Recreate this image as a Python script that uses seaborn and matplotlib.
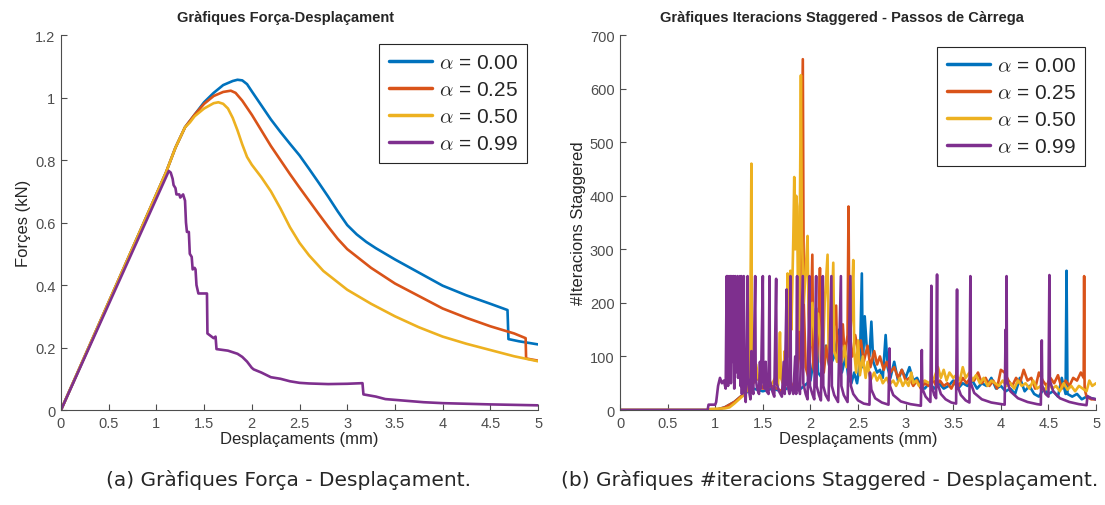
import numpy as np
import pandas as pd
import matplotlib
matplotlib.use('Agg')
import matplotlib.pyplot as plt
import seaborn as sns
from matplotlib.ticker import FormatStrFormatter, MultipleLocator

# Series labels and MATLAB default colours
labels = ['0.00', '0.25', '0.50', '0.99']
colors = ['#0072BD', '#D95319', '#EDB120', '#7E2F8E']

# (a) Force - displacement curves
fx_a0 = [0, 1.1, 1.2, 1.3, 1.35, 1.4, 1.5, 1.6, 1.7, 1.8, 1.85, 1.9, 1.95, 2.0, 2.1, 2.2, 2.3, 2.4,
         2.5, 2.6, 2.7, 2.8, 2.9, 3.0, 3.1, 3.2, 3.3, 3.4, 3.5, 3.75, 4.0, 4.25, 4.5, 4.68, 4.69, 4.8, 5.0]
fy_a0 = [0, 0.76, 0.84, 0.905, 0.925, 0.945, 0.985, 1.015, 1.04, 1.053, 1.057, 1.055, 1.043, 1.02,
         0.975, 0.93, 0.89, 0.852, 0.815, 0.772, 0.728, 0.683, 0.636, 0.592, 0.562, 0.538, 0.518,
         0.5, 0.482, 0.44, 0.398, 0.367, 0.34, 0.32, 0.227, 0.22, 0.21]

fx_a25 = [0, 1.1, 1.2, 1.3, 1.35, 1.4, 1.5, 1.6, 1.7, 1.78, 1.83, 1.9, 2.0, 2.1, 2.2, 2.3, 2.4, 2.5,
          2.6, 2.7, 2.8, 2.9, 3.0, 3.25, 3.5, 3.75, 4.0, 4.25, 4.5, 4.75, 4.87, 4.875, 5.0]
fy_a25 = [0, 0.76, 0.84, 0.905, 0.925, 0.945, 0.98, 1.005, 1.018, 1.022, 1.015, 0.99, 0.945, 0.895,
          0.845, 0.8, 0.755, 0.712, 0.67, 0.628, 0.587, 0.548, 0.515, 0.455, 0.405, 0.365, 0.325,
          0.295, 0.268, 0.245, 0.23, 0.165, 0.158]

fx_a50 = [0, 1.1, 1.2, 1.3, 1.35, 1.4, 1.5, 1.6, 1.65, 1.7, 1.75, 1.8, 1.85, 1.9, 1.95, 2.0, 2.1,
          2.2, 2.3, 2.4, 2.5, 2.6, 2.75, 3.0, 3.25, 3.5, 3.75, 4.0, 4.25, 4.5, 4.75, 5.0]
fy_a50 = [0, 0.76, 0.84, 0.905, 0.92, 0.94, 0.965, 0.982, 0.985, 0.98, 0.965, 0.935, 0.895, 0.85,
          0.81, 0.785, 0.745, 0.7, 0.645, 0.585, 0.535, 0.495, 0.445, 0.385, 0.34, 0.3, 0.265,
          0.235, 0.212, 0.192, 0.172, 0.156]

fx_a99 = [0, 1.13, 1.15, 1.17, 1.18, 1.2, 1.21, 1.24, 1.25, 1.28, 1.29, 1.3, 1.31, 1.32, 1.34,
          1.35, 1.37, 1.38, 1.4, 1.41, 1.42, 1.44, 1.5, 1.53, 1.535, 1.6, 1.62, 1.63, 1.75, 1.85,
          1.9, 1.95, 2.0, 2.02, 2.1, 2.2, 2.3, 2.4, 2.5, 2.6, 2.8, 3.0, 3.16, 3.17, 3.3, 3.4, 3.6,
          3.8, 4.0, 4.25, 4.5, 5.0]
fy_a99 = [0, 0.765, 0.76, 0.74, 0.72, 0.71, 0.69, 0.69, 0.68, 0.69, 0.68, 0.67, 0.6, 0.57, 0.57,
          0.5, 0.49, 0.45, 0.455, 0.45, 0.4, 0.373, 0.373, 0.373, 0.245, 0.23, 0.235, 0.195, 0.19,
          0.18, 0.17, 0.155, 0.135, 0.13, 0.12, 0.105, 0.1, 0.092, 0.087, 0.085, 0.083, 0.084,
          0.086, 0.05, 0.043, 0.035, 0.03, 0.025, 0.022, 0.02, 0.018, 0.015]

# (b) Staggered iterations - displacement
ix_a0 = [0, 1.0, 1.1, 1.2, 1.3, 1.4, 1.5, 1.6, 1.7, 1.8, 1.9, 2.0, 2.04, 2.06, 2.08, 2.12, 2.16,
         2.2, 2.25, 2.3, 2.33, 2.37, 2.4, 2.43, 2.46, 2.49, 2.52, 2.54, 2.55, 2.57, 2.59, 2.62, 2.64,
         2.66, 2.7, 2.73, 2.76, 2.79, 2.81, 2.84, 2.88, 2.92, 2.96, 3.0, 3.04, 3.08, 3.12, 3.16, 3.2,
         3.25, 3.3, 3.35, 3.4, 3.45, 3.5, 3.55, 3.6, 3.65, 3.7, 3.75, 3.8, 3.85, 3.9, 3.95, 4.0,
         4.05, 4.1, 4.15, 4.2, 4.25, 4.3, 4.35, 4.4, 4.45, 4.5, 4.55, 4.6, 4.64, 4.68, 4.69, 4.7,
         4.75, 4.8, 4.85, 4.9, 4.95, 5.0]
iy_a0 = [0, 0, 5, 15, 30, 40, 35, 40, 35, 45, 40, 55, 100, 190, 70, 60, 120, 80, 100, 150, 70,
         100, 60, 50, 70, 50, 90, 255, 80, 175, 120, 100, 165, 90, 70, 75, 60, 140, 80, 60, 90, 55,
         75, 60, 80, 55, 60, 45, 40, 50, 40, 50, 40, 45, 55, 40, 50, 45, 55, 40, 50, 45, 60, 40, 45,
         35, 40, 30, 60, 35, 45, 30, 25, 40, 30, 35, 25, 60, 30, 260, 30, 25, 30, 20, 25, 22, 20]

ix_a25 = [0, 1.0, 1.1, 1.2, 1.3, 1.35, 1.4, 1.45, 1.5, 1.6, 1.7, 1.75, 1.8, 1.85, 1.88, 1.9, 1.92,
          1.93, 1.95, 1.98, 2.0, 2.02, 2.03, 2.06, 2.09, 2.1, 2.11, 2.14, 2.17, 2.2, 2.24, 2.27,
          2.28, 2.31, 2.34, 2.36, 2.39, 2.4, 2.41, 2.44, 2.47, 2.5, 2.53, 2.56, 2.6, 2.63, 2.67,
          2.7, 2.73, 2.77, 2.8, 2.84, 2.88, 2.92, 2.96, 3.0, 3.04, 3.08, 3.12, 3.16, 3.2, 3.24,
          3.28, 3.32, 3.36, 3.4, 3.44, 3.48, 3.52, 3.56, 3.6, 3.64, 3.68, 3.72, 3.76, 3.8, 3.84,
          3.88, 3.92, 3.96, 4.0, 4.04, 4.08, 4.12, 4.16, 4.2, 4.24, 4.28, 4.32, 4.36, 4.4, 4.44,
          4.48, 4.52, 4.56, 4.6, 4.64, 4.68, 4.72, 4.76, 4.8, 4.84, 4.87, 4.875, 4.88, 4.9, 4.95, 5.0]
iy_a25 = [0, 0, 5, 15, 30, 40, 50, 60, 40, 45, 35, 50, 40, 60, 100, 300, 655, 200, 80, 60, 120,
          290, 80, 60, 180, 265, 90, 70, 120, 80, 150, 195, 100, 90, 160, 100, 140, 380, 120, 100,
          140, 110, 130, 90, 120, 80, 110, 85, 100, 75, 90, 70, 80, 60, 75, 55, 60, 45, 55, 40, 50,
          45, 60, 45, 55, 45, 50, 40, 55, 45, 60, 50, 60, 55, 70, 50, 60, 45, 55, 40, 75, 70, 55,
          45, 60, 50, 75, 55, 60, 40, 70, 55, 45, 60, 50, 65, 40, 55, 45, 60, 55, 70, 60, 250, 40,
          25, 20, 20]

ix_a50 = [0, 0.93, 0.95, 1.1, 1.15, 1.2, 1.25, 1.3, 1.33, 1.36, 1.37, 1.38, 1.385, 1.4, 1.43,
          1.45, 1.48, 1.52, 1.55, 1.6, 1.63, 1.66, 1.68, 1.69, 1.71, 1.73, 1.74, 1.76, 1.77, 1.78,
          1.79, 1.8, 1.82, 1.83, 1.84, 1.85, 1.86, 1.87, 1.88, 1.9, 1.91, 1.93, 1.95, 1.97, 1.98,
          2.0, 2.02, 2.04, 2.06, 2.08, 2.1, 2.13, 2.15, 2.18, 2.19, 2.21, 2.24, 2.25, 2.28, 2.31,
          2.33, 2.36, 2.38, 2.4, 2.43, 2.45, 2.46, 2.48, 2.5, 2.52, 2.55, 2.58, 2.6, 2.63, 2.67,
          2.7, 2.73, 2.76, 2.8, 2.83, 2.87, 2.9, 2.94, 2.97, 3.0, 3.03, 3.06, 3.08, 3.11, 3.14, 3.2,
          3.25, 3.3, 3.34, 3.37, 3.4, 3.43, 3.46, 3.5, 3.53, 3.57, 3.6, 3.63, 3.67, 3.7, 3.74, 3.78,
          3.82, 3.86, 3.9, 3.94, 3.98, 4.02, 4.06, 4.1, 4.14, 4.18, 4.22, 4.26, 4.3, 4.34, 4.38,
          4.42, 4.46, 4.5, 4.54, 4.58, 4.62, 4.66, 4.7, 4.74, 4.78, 4.82, 4.86, 4.9, 4.93, 4.96, 5.0]
iy_a50 = [0, 0, 2, 3, 5, 12, 20, 28, 35, 50, 200, 460, 130, 60, 85, 60, 50, 70, 45, 50, 60, 45,
          145, 60, 50, 110, 60, 255, 100, 200, 260, 150, 320, 435, 300, 400, 380, 200, 150, 625,
          330, 200, 260, 325, 180, 120, 200, 150, 100, 180, 140, 90, 200, 290, 120, 100, 275, 110,
          90, 140, 90, 120, 80, 100, 170, 280, 110, 70, 130, 65, 100, 60, 90, 55, 70, 55, 65, 50,
          60, 48, 55, 45, 60, 45, 55, 45, 70, 50, 55, 45, 55, 50, 60, 80, 60, 75, 55, 70, 60, 65, 55,
          80, 60, 70, 55, 65, 50, 60, 45, 55, 50, 45, 55, 45, 50, 40, 55, 45, 50, 40, 55, 40, 45, 35,
          50, 40, 45, 35, 50, 38, 45, 35, 45, 40, 35, 55, 45, 50]

ix_a99 = [0, 0.92, 0.93, 1.0, 1.01, 1.03, 1.05, 1.07, 1.09, 1.11,
          1.12, 1.125, 1.13, 1.135, 1.145, 1.15, 1.16, 1.165, 1.175, 1.18, 1.19, 1.2, 1.21, 1.215,
          1.225, 1.235, 1.24, 1.25, 1.26, 1.265, 1.275, 1.28, 1.29, 1.3, 1.305, 1.32, 1.33, 1.34,
          1.345, 1.36, 1.37, 1.38, 1.39, 1.4, 1.42, 1.425, 1.44, 1.46, 1.47, 1.48, 1.5, 1.505,
          1.52, 1.53, 1.54, 1.56, 1.57, 1.575, 1.6, 1.62, 1.64, 1.645, 1.67, 1.7, 1.72, 1.73, 1.75,
          1.755, 1.78, 1.79, 1.795, 1.82, 1.84, 1.85, 1.86, 1.865, 1.89, 1.92, 1.925, 1.95, 1.97,
          1.99, 1.995, 2.02, 2.04, 2.06, 2.065, 2.09, 2.11, 2.13, 2.135, 2.16, 2.19, 2.22, 2.225,
          2.25, 2.29, 2.32, 2.325, 2.35, 2.39, 2.42, 2.425, 2.45, 2.5, 2.56, 2.62, 2.625, 2.64,
          2.68, 2.75, 2.82, 2.83, 2.835, 2.87, 2.95, 3.05, 3.16, 3.17, 3.175, 3.21, 3.26, 3.27,
          3.275, 3.3, 3.32, 3.33, 3.335, 3.37, 3.42, 3.48, 3.53, 3.54, 3.545, 3.58, 3.63, 3.67,
          3.68, 3.685, 3.72, 3.8, 3.9, 4.0, 4.04, 4.05, 4.055, 4.06, 4.065, 4.1, 4.18, 4.28, 4.38,
          4.42, 4.43, 4.435, 4.47, 4.5, 4.51, 4.515, 4.55, 4.62, 4.72, 4.82, 4.9, 4.91, 4.95, 5.0]
iy_a99 = [0, 0, 10, 10, 15, 45, 60, 50, 55, 40,
          250, 60, 250, 45, 250, 100, 250, 50, 250, 90, 250, 40, 250, 70,
          140, 250, 60, 130, 250, 45, 250, 30, 200, 250, 40, 15, 100, 250,
          60, 30, 20, 110, 40, 30, 250, 60, 40, 30, 90, 40, 250, 55,
          40, 90, 35, 30, 250, 55, 35, 25, 245, 50, 35, 25, 90, 30, 225,
          50, 30, 250, 45, 30, 100, 30, 250, 50, 30, 250, 50, 30, 20,
          250, 45, 30, 20, 250, 45, 28, 18, 250, 45, 28, 18, 250, 45,
          28, 15, 250, 45, 28, 15, 250, 45, 30, 18, 12, 10, 70, 38,
          22, 14, 10, 115, 45, 28, 16, 11, 8, 112, 40, 25, 15, 232,
          45, 28, 22, 253, 50, 30, 20, 14, 12, 225, 45, 28, 18, 14,
          250, 50, 32, 20, 14, 11, 10, 150, 50, 250, 55, 35, 22, 15, 11,
          10, 130, 45, 30, 25, 252, 55, 35, 22, 15, 11, 9, 26, 22, 20]

force = pd.concat([
    pd.DataFrame({'x': fx_a0, 'y': fy_a0, 'alpha': labels[0]}),
    pd.DataFrame({'x': fx_a25, 'y': fy_a25, 'alpha': labels[1]}),
    pd.DataFrame({'x': fx_a50, 'y': fy_a50, 'alpha': labels[2]}),
    pd.DataFrame({'x': fx_a99, 'y': fy_a99, 'alpha': labels[3]}),
], ignore_index=True)

iters = pd.concat([
    pd.DataFrame({'x': ix_a0, 'y': iy_a0, 'alpha': labels[0]}),
    pd.DataFrame({'x': ix_a25, 'y': iy_a25, 'alpha': labels[1]}),
    pd.DataFrame({'x': ix_a50, 'y': iy_a50, 'alpha': labels[2]}),
    pd.DataFrame({'x': ix_a99, 'y': iy_a99, 'alpha': labels[3]}),
], ignore_index=True)

sns.set_theme(style='ticks')
plt.rcParams['font.family'] = ['Liberation Sans', 'DejaVu Sans']
plt.rcParams['mathtext.fontset'] = 'cm'

fig = plt.figure(figsize=(11.05, 5.06), dpi=100)
ax1 = fig.add_axes([0.0552, 0.1877, 0.4317, 0.741])
ax2 = fig.add_axes([0.5611, 0.1877, 0.4308, 0.741])

pal = dict(zip(labels, colors))
gray = '#4d4d4d'

for ax, df in [(ax1, force), (ax2, iters)]:
    sns.lineplot(data=df, x='x', y='y', hue='alpha', palette=pal, sort=False,
                 estimator=None, linewidth=1.9, ax=ax, legend=False)
    ax.set_xlim(0, 5)
    ax.xaxis.set_major_locator(MultipleLocator(0.5))
    ax.xaxis.set_major_formatter(FormatStrFormatter('%g'))
    ax.set_xlabel('Desplaçaments (mm)', fontsize=12, color='#262626', labelpad=1)
    ax.tick_params(direction='in', length=4, width=0.8, colors=gray, labelsize=10.5, pad=4)
    for s in ['top', 'right']:
        ax.spines[s].set_visible(False)
    for s in ['left', 'bottom']:
        ax.spines[s].set_color(gray)
        ax.spines[s].set_linewidth(0.8)

ax1.set_ylim(0, 1.2)
ax1.yaxis.set_major_locator(MultipleLocator(0.2))
ax1.yaxis.set_major_formatter(FormatStrFormatter('%g'))
ax1.set_ylabel('Forçes (kN)', fontsize=12, color='#262626', labelpad=3)
ax1.set_title('Gràfiques Força-Desplaçament', fontsize=10.5, fontweight='bold', pad=10, x=0.47)

ax2.set_ylim(0, 700)
ax2.yaxis.set_major_locator(MultipleLocator(100))
ax2.set_ylabel('#Iteracions Staggered', fontsize=12, color='#262626', labelpad=3)
ax2.set_title('Gràfiques Iteracions Staggered - Passos de Càrrega', fontsize=10.5,
              fontweight='bold', pad=10, x=0.466)

for ax, anchor in [(ax1, (0.977, 0.976)), (ax2, (0.977, 0.968))]:
    handles = [plt.Line2D([], [], color=c, lw=2.5) for c in colors]
    leg = ax.legend(handles, [r'$\alpha$ = ' + l for l in labels], loc='upper right',
                    bbox_to_anchor=anchor, fontsize=15, frameon=True, fancybox=False,
                    edgecolor='#262626', framealpha=1, handlelength=2.1, handletextpad=0.3,
                    labelspacing=0.38, borderpad=0.45, borderaxespad=0)
    leg.get_frame().set_linewidth(0.8)

fig.text(0.261, 0.032, '(a) Gràfiques Força - Desplaçament.', ha='center', va='bottom',
         fontsize=14.5, family=['DejaVu Sans'])
fig.text(0.751, 0.032, '(b) Gràfiques #iteracions Staggered - Desplaçament.', ha='center',
         va='bottom', fontsize=14.5, family=['DejaVu Sans'])

fig.savefig('out.png', dpi=100)
